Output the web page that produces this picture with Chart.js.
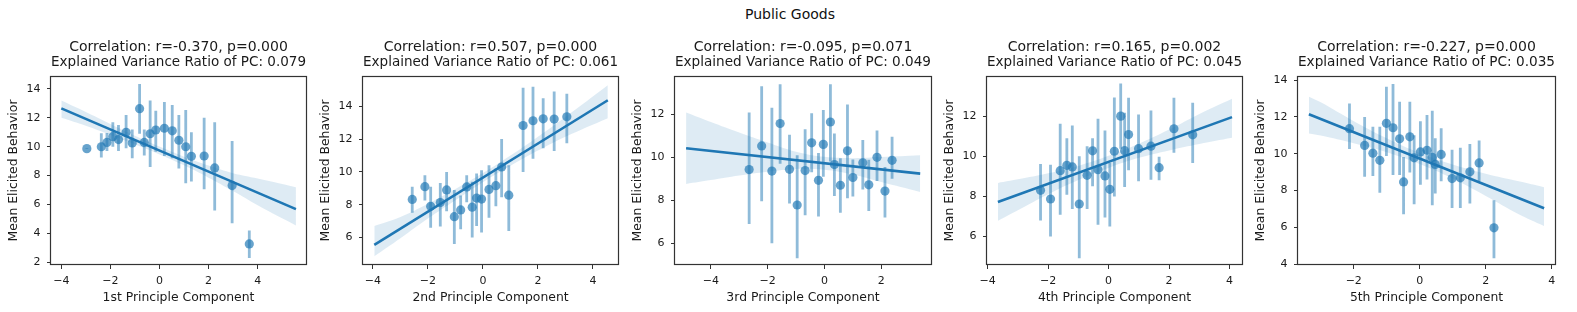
<!DOCTYPE html>
<html>
<head>
<meta charset="utf-8">
<script src="https://cdn.jsdelivr.net/npm/chart.js@4.4.1/dist/chart.umd.min.js"></script>
<style>
  body { margin: 0; background: #fff; }
  #wrap { position: relative; width: 1577px; height: 312px; overflow: hidden; }
  #wrap canvas { position: absolute; top: 0; }
  #suptitle {
    position: absolute; left: 0; width: 1580px; top: 6px;
    text-align: center; font: 14px "DejaVu Sans"; color: #111;
  }
</style>
</head>
<body>
<div id="wrap">
  <div id="suptitle">Public Goods</div>
</div>
<script>
// Public Goods: mean elicited behavior vs. principal components

const titles = [
    ['Correlation: r=-0.370, p=0.000', 'Explained Variance Ratio of PC: 0.079'],
    ['Correlation: r=0.507, p=0.000', 'Explained Variance Ratio of PC: 0.061'],
    ['Correlation: r=-0.095, p=0.071', 'Explained Variance Ratio of PC: 0.049'],
    ['Correlation: r=0.165, p=0.002', 'Explained Variance Ratio of PC: 0.045'],
    ['Correlation: r=-0.227, p=0.000', 'Explained Variance Ratio of PC: 0.035']
];
const xLabels = ['1st Principle Component', '2nd Principle Component', '3rd Principle Component',
    '4th Principle Component', '5th Principle Component'];
const yLabel = 'Mean Elicited Behavior';

// tick labels
const xTicks1 = [-4, -2, 0, 2, 4];
const yTicks1 = [2, 4, 6, 8, 10, 12, 14];
const xTicks2 = [-4, -2, 0, 2, 4];
const yTicks2 = [6, 8, 10, 12, 14];
const xTicks3 = [-4, -2, 0, 2];
const yTicks3 = [6, 8, 10, 12];
const xTicks4 = [-4, -2, 0, 2, 4];
const yTicks4 = [6, 8, 10, 12];
const xTicks5 = [-2, 0, 2, 4];
const yTicks5 = [4, 6, 8, 10, 12, 14];

// PC1
const x1 = [-2.96, -2.37, -2.14, -1.90, -1.67, -1.36, -1.11, -0.81, -0.62, -0.38, -0.15, 0.20, 0.52, 0.79, 1.07, 1.30, 1.82, 2.25, 2.96, 3.66];
const y1 = [9.87, 10.0, 10.3, 10.7, 10.5, 11.0, 10.26, 12.64, 10.3, 10.9, 11.16, 11.28, 11.1, 10.45, 10.0, 9.34, 9.36, 8.53, 7.31, 3.27];
const hi1 = [9.9, 10.93, 10.95, 11.7, 11.5, 12.2, 11.2, 14.35, 11.2, 13.2, 12.5, 13.1, 12.9, 12.2, 12.55, 11.0, 12.0, 11.7, 10.4, 4.2];
const lo1 = [9.85, 9.25, 9.7, 10.0, 9.7, 9.9, 9.2, 10.9, 9.4, 8.6, 9.66, 9.36, 9.2, 8.5, 7.47, 7.6, 7.05, 5.58, 4.7, 2.3];
const fitX1 = [-4, 5.56];
const fitY1 = [12.66, 5.68];
const bandX1 = [-4, -3, -2, -1, 0, 1, 2, 3, 4, 5.56];
const bandUp1 = [13.2, 12.41, 11.58, 10.77, 10.01, 9.31, 8.70, 8.17, 7.80, 7.2];
const bandLo1 = [12.0, 11.45, 10.82, 10.17, 9.47, 8.71, 7.86, 6.93, 5.95, 4.55];

// PC2
const x2 = [-2.57, -2.11, -1.90, -1.55, -1.32, -1.04, -0.81, -0.59, -0.39, -0.23, -0.05, 0.22, 0.47, 0.68, 0.94, 1.46, 1.82, 2.19, 2.59, 3.05];
const y2 = [8.32, 9.1, 7.9, 8.13, 8.9, 7.27, 7.68, 9.08, 7.85, 8.4, 8.34, 8.93, 9.16, 10.3, 8.58, 12.83, 13.12, 13.24, 13.22, 13.36];
const hi2 = [9.1, 9.8, 9.1, 9.33, 10.0, 8.9, 8.56, 9.8, 9.4, 9.9, 10.1, 10.4, 10.2, 12.0, 10.4, 15.13, 15.2, 14.5, 14.9, 14.76];
const lo2 = [7.5, 8.26, 6.6, 6.67, 7.6, 5.6, 6.5, 8.15, 6.0, 6.7, 6.3, 7.2, 7.9, 8.46, 6.4, 10.0, 10.8, 11.44, 11.27, 11.74];
const fitX2 = [-3.95, 4.54];
const fitY2 = [5.55, 14.37];
const bandX2 = [-3.95, -3, -2, -1, 0, 1, 2, 3, 4.54];
const bandUp2 = [6.7, 7.25, 8.05, 8.95, 9.93, 11.0, 12.15, 13.35, 15.29];
const bandLo2 = [4.85, 5.95, 7.15, 8.27, 9.37, 10.37, 11.3, 12.15, 13.28];

// PC3
const x3 = [-2.65, -2.21, -1.85, -1.56, -1.23, -0.96, -0.68, -0.45, -0.21, -0.04, 0.21, 0.35, 0.56, 0.81, 1.0, 1.35, 1.56, 1.85, 2.13, 2.38];
const y3 = [9.43, 10.53, 9.36, 11.57, 9.44, 7.78, 9.38, 10.67, 8.93, 10.6, 11.64, 9.66, 8.7, 10.3, 9.06, 9.74, 8.72, 10.0, 8.43, 9.86];
const hi3 = [12.08, 13.3, 12.3, 13.4, 11.05, 10.1, 11.3, 12.05, 10.2, 12.2, 13.4, 11.1, 9.95, 12.46, 9.9, 10.8, 9.88, 11.24, 9.55, 10.95];
const lo3 = [6.9, 7.95, 6.0, 9.7, 7.85, 5.3, 7.3, 9.3, 7.25, 9.1, 9.8, 8.2, 7.42, 8.1, 8.17, 8.5, 7.5, 8.9, 7.2, 9.0];
const fitX3 = [-4.87, 3.37];
const fitY3 = [10.42, 9.24];
const bandX3 = [-4.87, -4, -3, -2, -1, 0, 1, 2, 3.37];
const bandUp3 = [12.08, 11.64, 11.15, 10.69, 10.26, 10.02, 9.96, 10.01, 10.09];
const bandLo3 = [8.76, 8.94, 9.15, 9.33, 9.46, 9.42, 9.2, 8.85, 8.39];

// PC4
const x4 = [-2.25, -1.92, -1.60, -1.38, -1.20, -0.97, -0.71, -0.53, -0.35, -0.12, 0.04, 0.19, 0.40, 0.53, 0.66, 0.99, 1.40, 1.67, 2.16, 2.78];
const y4 = [8.3, 7.87, 9.28, 9.55, 9.47, 7.62, 9.05, 10.27, 9.33, 9.02, 8.35, 10.25, 12.0, 10.28, 11.08, 10.38, 10.5, 9.43, 11.37, 11.07];
const hi4 = [9.62, 9.58, 11.62, 10.9, 11.53, 10.0, 10.5, 10.9, 11.87, 11.28, 9.67, 12.93, 13.63, 12.17, 12.92, 12.08, 12.28, 9.97, 12.92, 12.67];
const lo4 = [6.8, 6.0, 7.08, 8.08, 7.37, 4.92, 7.37, 8.5, 6.58, 6.95, 6.5, 8.0, 10.37, 8.47, 9.3, 8.75, 8.83, 8.8, 10.17, 9.67];
const fitX4 = [-3.66, 4.08];
const fitY4 = [7.72, 11.95];
const bandX4 = [-3.66, -3, -2, -1, 0, 1, 2, 3, 4.08];
const bandUp4 = [8.67, 8.85, 9.15, 9.52, 10.02, 10.62, 11.33, 12.11, 12.87];
const bandLo4 = [6.78, 7.31, 8.11, 8.82, 9.42, 9.92, 10.29, 10.61, 10.92];

// PC5
const x5 = [-2.13, -1.67, -1.42, -1.21, -1.01, -0.81, -0.61, -0.49, -0.30, -0.17, 0.02, 0.22, 0.38, 0.47, 0.65, 0.98, 1.23, 1.52, 1.80, 2.25];
const y5 = [11.36, 10.45, 10.03, 9.64, 11.65, 11.41, 10.81, 8.47, 10.92, 9.78, 10.1, 10.19, 9.8, 9.42, 9.96, 8.65, 8.69, 9.02, 9.5, 5.98];
const hi5 = [12.73, 12.0, 11.46, 11.46, 13.64, 13.79, 12.82, 9.82, 12.82, 11.0, 11.77, 12.1, 12.34, 10.84, 11.38, 10.22, 10.32, 10.53, 10.72, 7.48];
const lo5 = [10.26, 8.75, 8.79, 7.88, 9.88, 8.85, 8.85, 6.72, 8.98, 7.26, 8.31, 8.6, 7.2, 7.84, 8.5, 7.05, 7.05, 7.3, 8.5, 4.32];
const fitX5 = [-3.36, 3.77];
const fitY5 = [12.14, 7.04];
const bandX5 = [-3.36, -3, -2, -1, 0, 1, 2, 3, 3.77];
const bandUp5 = [13.1, 12.79, 11.77, 10.84, 10.04, 9.41, 8.91, 8.5, 8.18];
const bandLo5 = [11.1, 10.99, 10.57, 10.08, 9.44, 8.65, 7.71, 6.72, 6.08];

// layout of each axes box (px in the page)
const panels = [
    { left: 51, right: 306, xr: [-4.42, 5.97], yr: [1.81, 14.9], x: x1, y: y1, hi: hi1, lo: lo1, fx: fitX1, fy: fitY1, bx: bandX1, bu: bandUp1, bl: bandLo1, xt: xTicks1, yt: yTicks1 },
    { left: 363, right: 618, xr: [-4.36, 4.91], yr: [4.32, 15.85], x: x2, y: y2, hi: hi2, lo: lo2, fx: fitX2, fy: fitY2, bx: bandX2, bu: bandUp2, bl: bandLo2, xt: xTicks2, yt: yTicks2 },
    { left: 675, right: 931, xr: [-5.26, 3.75], yr: [4.99, 13.78], x: x3, y: y3, hi: hi3, lo: lo3, fx: fitX3, fy: fitY3, bx: bandX3, bu: bandUp3, bl: bandLo3, xt: xTicks3, yt: yTicks3 },
    { left: 987, right: 1242, xr: [-4.02, 4.41], yr: [4.58, 14.0], x: x4, y: y4, hi: hi4, lo: lo4, fx: fitX4, fy: fitY4, bx: bandX4, bu: bandUp4, bl: bandLo4, xt: xTicks4, yt: yTicks4 },
    { left: 1298, right: 1555, xr: [-3.69, 4.10], yr: [3.96, 14.22], x: x5, y: y5, hi: hi5, lo: lo5, fx: fitX5, fy: fitY5, bx: bandX5, bu: bandUp5, bl: bandLo5, xt: xTicks5, yt: yTicks5 }
];

const BLUE = '#1f77b4';
const FONT = 'DejaVu Sans';
const TXT = '#1a1a1a';
const AXIS = '#333333';

const fmt = v => (v < 0 ? '\u2212' + Math.abs(v) : String(v));

const frame = {
    id: 'frame',
    afterDatasetsDraw(chart) {
        const a = chart.chartArea, c = chart.ctx;
        c.save();
        c.strokeStyle = AXIS;
        c.lineWidth = 1.2;
        c.strokeRect(Math.round(a.left) - 0.5, Math.round(a.top) + 0.5,
            Math.round(a.right - a.left) + 1, Math.round(a.bottom - a.top) - 1);
        c.restore();
    }
};

function makePanel(p, i) {
    const wrap = document.getElementById('wrap');
    const cv = document.createElement('canvas');
    const w = p.right - p.left + 51 + 8;
    cv.width = w;
    cv.height = 312;
    cv.style.left = (p.left - 51) + 'px';
    cv.style.width = w + 'px';
    cv.style.height = '312px';
    wrap.appendChild(cv);

    const pts = p.x.map((v, k) => ({ x: v, y: p.y[k] }));
    const bars = p.x.flatMap((v, k) => [{ x: v, y: p.lo[k] }, { x: v, y: p.hi[k] }, { x: v, y: null }]);
    const fit = p.fx.map((v, k) => ({ x: v, y: p.fy[k] }));
    const up = p.bx.map((v, k) => ({ x: v, y: p.bu[k] }));
    const lo = p.bx.map((v, k) => ({ x: v, y: p.bl[k] }));

    new Chart(cv, {
        type: 'scatter',
        data: {
            datasets: [
                { data: up, showLine: true, fill: '+1', borderWidth: 0, pointRadius: 0, tension: 0.4,
                  backgroundColor: 'rgba(31,119,180,0.15)', borderColor: 'rgba(0,0,0,0)', order: 5 },
                { data: lo, showLine: true, fill: false, borderWidth: 0, pointRadius: 0, tension: 0.4,
                  borderColor: 'rgba(0,0,0,0)', order: 6 },
                { data: bars, showLine: true, spanGaps: false, pointRadius: 0, borderWidth: 2.8,
                  borderColor: 'rgba(31,119,180,0.5)', borderCapStyle: 'butt', order: 3 },
                { data: pts, pointRadius: 4.6, pointBorderWidth: 0,
                  backgroundColor: 'rgba(31,119,180,0.68)', order: 2 },
                { data: fit, showLine: true, pointRadius: 0, borderWidth: 2.6, borderColor: BLUE, order: 1 }
            ]
        },
        options: {
            responsive: false,
            animation: false,
            events: [],
            layout: { padding: { top: 40, right: 8, bottom: 0, left: 0 } },
            plugins: {
                legend: { display: false },
                tooltip: { enabled: false },
                title: {
                    display: true,
                    text: titles[i],
                    fullSize: false,
                    color: TXT,
                    font: { family: FONT, size: 14, weight: 'normal', lineHeight: 15 / 14 },
                    padding: { top: 0, bottom: 6 }
                }
            },
            scales: {
                x: {
                    type: 'linear',
                    min: p.xr[0],
                    max: p.xr[1],
                    afterFit: s => { s.height = 47; },
                    afterBuildTicks: s => { s.ticks = p.xt.map(v => ({ value: v })); },
                    grid: { drawOnChartArea: false, drawTicks: true, tickLength: 4, color: AXIS },
                    border: { display: false },
                    ticks: { callback: fmt, color: TXT, padding: 6, maxRotation: 0,
                             font: { family: FONT, size: 11 } },
                    title: { display: true, text: xLabels[i], color: TXT,
                             font: { family: FONT, size: 12.4 }, padding: { top: 0, bottom: 6.5 } }
                },
                y: {
                    type: 'linear',
                    min: p.yr[0],
                    max: p.yr[1],
                    afterFit: s => { s.width = 51; },
                    afterBuildTicks: s => { s.ticks = p.yt.map(v => ({ value: v })); },
                    grid: { drawOnChartArea: false, drawTicks: true, tickLength: 4, color: AXIS },
                    border: { display: false },
                    ticks: { callback: fmt, color: TXT, padding: 6.5,
                             font: { family: FONT, size: 11 } },
                    title: { display: true, text: yLabel, color: TXT,
                             font: { family: FONT, size: 12.4 }, padding: { top: 6.5, bottom: 0 } }
                }
            }
        },
        plugins: [frame]
    });
}

panels.forEach(makePanel);
</script>
</body>
</html>
